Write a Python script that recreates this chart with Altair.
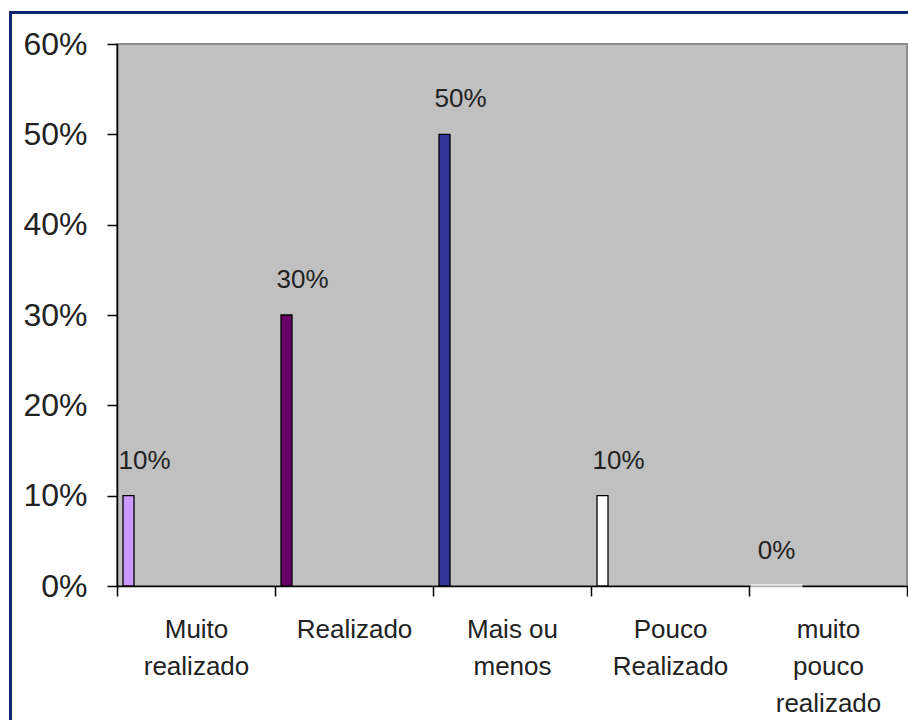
import altair as alt
import pandas as pd

# Survey answers: share of responses per rating
categories = ["Muito\nrealizado", "Realizado", "Mais ou\nmenos", "Pouco\nRealizado", "muito\npouco\nrealizado"]
shares = [0.10, 0.30, 0.50, 0.10, 0.00]
bar_colors = ["#CC99FF", "#660066", "#333399", "#FFFFFF", "#FFFFFF"]
y_ticks = [0.0, 0.1, 0.2, 0.3, 0.4, 0.5, 0.6]

df = pd.DataFrame({"categoria": categories, "valor": shares})

FONT = "Liberation Sans"
BAR_SHIFT = -67.5  # bars sit at the left edge of each category slot

x_enc = alt.X(
    "categoria:N",
    sort=categories,
    scale=alt.Scale(paddingInner=0, paddingOuter=0),
    axis=alt.Axis(
        title=None,
        labelAngle=0,
        tickBand="extent",
        tickSize=10,
        tickColor="black",
        tickWidth=1.5,
        domainColor="black",
        domainWidth=1.5,
        labelFont=FONT,
        labelFontSize=26,
        labelColor="#222222",
        labelLineHeight=37,
        labelPadding=20,
        labelExpr="datum.value ? split(datum.value, '\\n') : ''",
    ),
)
y_enc = alt.Y(
    "valor:Q",
    scale=alt.Scale(domain=[0, 0.6], nice=False),
    axis=alt.Axis(
        title=None,
        values=y_ticks,
        format=".0%",
        grid=False,
        tickSize=10,
        tickColor="black",
        tickWidth=1.5,
        domainColor="black",
        domainWidth=1.5,
        labelFont=FONT,
        labelFontSize=32,
        labelColor="#222222",
        labelPadding=20,
    ),
)

base = alt.Chart(df)

bars = base.transform_filter("datum.valor > 0").mark_bar(
    size=11, xOffset=BAR_SHIFT, stroke="black", strokeWidth=1.3
).encode(
    x=x_enc,
    y=y_enc,
    color=alt.Color("categoria:N", scale=alt.Scale(domain=categories, range=bar_colors), legend=None),
)

labels = base.mark_text(
    font=FONT, fontSize=26, color="#222222", baseline="alphabetic",
    xOffset=BAR_SHIFT + 16, dy=-27,
).encode(
    x=alt.X("categoria:N", sort=categories),
    y="valor:Q",
    text=alt.Text("valor:Q", format=".0%"),
)

# label backdrop for the empty category breaks the axis line
gap = base.transform_filter("datum.valor == 0").mark_tick(
    orient="horizontal", size=52, thickness=4, color="white", xOffset=BAR_SHIFT + 16
).encode(
    x=alt.X("categoria:N", sort=categories),
    y="valor:Q",
)

# dark blue frame around the chart
frame_left = alt.Chart(df).mark_rule(color="#0A2870", strokeWidth=2.5).encode(
    x=alt.value(-106.5), y=alt.value(-31.7), y2=alt.value(700)
)
frame_top = alt.Chart(df).mark_rule(color="#0A2870", strokeWidth=2.5).encode(
    x=alt.value(-107.5), x2=alt.value(820), y=alt.value(-31.7)
)

chart = (
    alt.layer(bars, gap, labels, frame_left, frame_top)
    .properties(
        width=790,
        height=542,
        autosize=alt.AutoSizeParams(type="none"),
        padding={"left": 117, "top": 44, "right": 1, "bottom": 134},
        background="white",
    )
    .configure_view(fill="#C0C0C0", stroke="#8C8C8C", strokeWidth=2)
)

chart.save("out.html", embed_options={"renderer": "svg", "actions": False})
